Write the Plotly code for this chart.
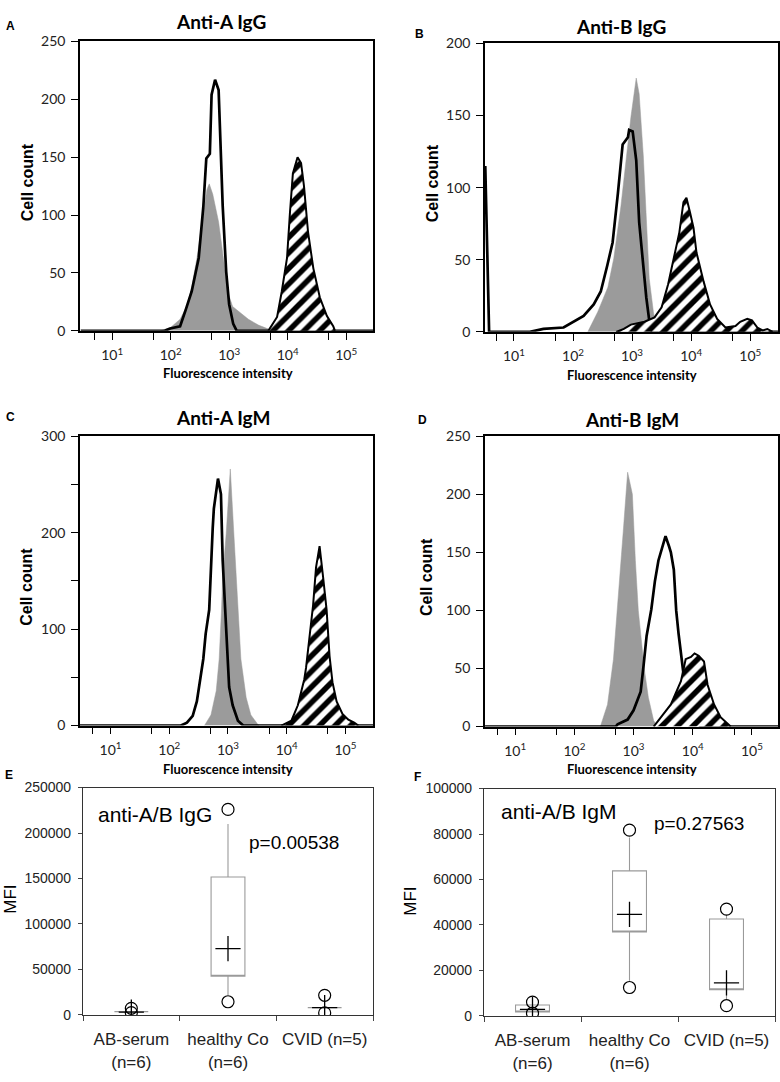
import plotly.graph_objects as go

W, H = 780, 1082

# ---------------- data ----------------
# Panel A: Anti-A IgG (fluorescence intensity, cell count)
A_gray_x = [66, 100, 145, 191, 229, 282, 363, 417, 457, 525, 661, 794, 955, 1148, 1514, 2138, 3162, 4467, 5623]
A_gray_y = [0, 3, 10, 22, 38, 63, 102, 122, 127, 118, 94, 63, 33, 21, 16, 10, 5, 2, 0]
A_black_x = [2.9, 79, 98, 145, 178, 229, 302, 363, 407, 468, 501, 575, 661, 708, 776, 891, 1000, 1175, 1349, 290000]
A_black_y = [0, 0, 2, 4, 17, 34, 63, 108, 149, 153, 204, 217, 208, 165, 108, 51, 23, 6, 0, 0]
A_hatch_x = [4677, 6607, 7943, 9772, 10965, 12303, 14791, 16982, 19055, 22387, 27542, 35481, 46774, 60256, 64565]
A_hatch_y = [0, 12, 34, 63, 102, 136, 150, 145, 125, 85, 54, 29, 13, 4, 0]

# Panel B: Anti-B IgG
B_gray_x = [178, 263, 389, 490, 646, 794, 955, 1175, 1318, 1549, 1738, 1950, 2291, 2570, 2754]
B_gray_y = [0, 14, 31, 51, 87, 122, 149, 176, 165, 122, 76, 37, 14, 2, 0]
B_black_x = [3.27, 3.5, 3.8, 18.6, 31.6, 69.2, 102, 151, 224, 295, 380, 468, 575, 692, 851, 891, 1023, 1175, 1318, 1549, 1738, 1950, 2188, 295000]
B_black_y = [115, 60, 0, 0, 2, 3, 7, 11, 19, 28, 46, 62, 96, 130, 135, 140, 139, 119, 76, 42, 24, 8, 0, 0]
B_hatch_x = [537, 724, 955, 1622, 2399, 3162, 4074, 5248, 6310, 7413, 8318, 9550, 10965, 12303, 16218,
             20893, 27542, 38019, 56234, 67608, 89125, 107152, 131826, 162181, 194984, 239883]
B_hatch_y = [0, 2, 5, 7, 10, 17, 33, 55, 69, 90, 93, 83, 72, 55, 35, 19, 9, 3, 4, 7, 9, 8, 3, 1, 2, 0]

# Panel C: Anti-A IgM
C_gray_x = [398, 513, 631, 708, 776, 813, 933, 1000, 1096, 1259, 1479, 1660, 2042, 2455, 3236, 3388]
C_gray_y = [0, 11, 36, 69, 120, 154, 199, 232, 266, 199, 120, 69, 29, 11, 1, 0]
C_black_x = [3.0, 158, 200, 251, 295, 331, 380, 417, 479, 550, 575, 676, 759, 813, 891, 977, 1047, 1202, 1479, 1820, 295000]
C_black_y = [0, 0, 3, 10, 25, 45, 69, 95, 120, 205, 225, 256, 240, 171, 120, 70, 40, 21, 5, 0, 0]
C_hatch_x = [8128, 12023, 15488, 19953, 21380, 23988, 28184, 31623, 36308, 41687, 47863, 53703, 60256,
             70795, 89125, 112202, 141254, 165959]
C_hatch_y = [0, 5, 21, 48, 60, 90, 125, 164, 186, 154, 120, 72, 45, 25, 12, 6, 3, 0]

# Panel D: Anti-B IgM
D_gray_x = [275, 363, 457, 562, 676, 794, 955, 1072, 1202, 1349, 1514, 1778, 2188, 2570]
D_gray_y = [0, 19, 58, 115, 171, 219, 200, 143, 100, 75, 50, 25, 5, 0]
D_black_x = [3.1, 501, 537, 794, 1000, 1318, 1479, 1660, 1995, 2291, 2630, 2884, 3467, 3981, 4266,
             4786, 5248, 5754, 6607, 7586, 8913, 11220, 14125, 280000]
D_black_y = [0, 0, 2, 6, 14, 30, 53, 78, 101, 125, 143, 150, 164, 155, 150, 135, 100, 80, 53, 30, 12, 3, 0, 0]
D_hatch_x = [2188, 2884, 4266, 6310, 7586, 9333, 10715, 12589, 15488, 17783, 22909, 29512, 43652]
D_hatch_y = [0, 8, 19, 39, 58, 60, 63, 61, 56, 36, 19, 8, 0]

# Panels E / F: MFI box plots
CATS = ["AB-serum<br>(n=6)", "healthy Co<br>(n=6)", "CVID (n=5)"]
E_q1 = [3600, 42600, 8000]
E_median = [3600, 42600, 8000]
E_q3 = [3600, 151700, 8000]
E_lowfence = [3600, 22000, 8000]
E_upfence = [3600, 210000, 8000]
E_min = [2600, 14500, 2300]
E_max = [7300, 226000, 21600]
E_mean = [3000, 73000, 8000]

F_q1 = [1700, 36900, 11500]
F_median = [1700, 36900, 11500]
F_q3 = [4800, 63800, 42600]
F_lowfence = [1700, 15500, 7000]
F_upfence = [4800, 78500, 44500]
F_min = [1200, 12500, 4500]
F_max = [6100, 81700, 47000]
F_mean = [2900, 44700, 14500]

DECADE_TICKS = [5, 10, 50, 100, 500, 1000, 5000, 10000, 50000, 100000]
DECADE_TEXT = ["", "10<sup>1</sup>", "", "10<sup>2</sup>", "", "10<sup>3</sup>", "", "10<sup>4</sup>", "", "10<sup>5</sup>"]

# ---------------- layout helpers ----------------
def fx(p):
    return p / W

def fy(p):
    return 1 - p / H

GRAY = "#9b9b9b"
CAL = "Lato, 'Open Sans', sans-serif"
ARIAL = "'Liberation Sans', Arial, sans-serif"

fig = go.Figure()

hist_panels = [
    ((A_gray_x, A_gray_y), (A_black_x, A_black_y), (A_hatch_x, A_hatch_y), (80, 373, 33, 327), [0.45, 5.46], 250,
     [0, 50, 100, 150, 200, 250], ["0", "50", "100", "150", "200", "250"]),
    ((B_gray_x, B_gray_y), (B_black_x, B_black_y), (B_hatch_x, B_hatch_y), (485, 778, 35, 328), [0.51, 5.47], 200,
     [0, 50, 100, 150, 200], ["0", "50", "100", "150", "200"]),
    ((C_gray_x, C_gray_y), (C_black_x, C_black_y), (C_hatch_x, C_hatch_y), (80, 373, 434, 728), [0.48, 5.47], 300,
     [0, 50, 100, 150, 200, 250, 300], ["0", "", "100", "", "200", "", "300"]),
    ((D_gray_x, D_gray_y), (D_black_x, D_black_y), (D_hatch_x, D_hatch_y), (485, 778, 434, 729), [0.49, 5.44], 250,
     [0, 50, 100, 150, 200, 250], ["0", "50", "100", "150", "200", "250"]),
]

layout_axes = {}
for i, (g, b, h, dom, xr, ymax, ytv, ytt) in enumerate(hist_panels, start=1):
    xa = "x" if i == 1 else f"x{i}"
    ya = "y" if i == 1 else f"y{i}"
    fig.add_trace(go.Scatter(x=g[0], y=g[1], xaxis=xa, yaxis=ya, mode="lines", fill="tozeroy",
                             fillcolor=GRAY, line=dict(color=GRAY, width=0.5), showlegend=False,
                             hoverinfo="skip"))
    fig.add_trace(go.Scatter(x=b[0], y=b[1], xaxis=xa, yaxis=ya, mode="lines",
                             line=dict(color="black", width=2.7), showlegend=False, hoverinfo="skip"))
    fig.add_trace(go.Scatter(x=h[0], y=h[1], xaxis=xa, yaxis=ya, mode="lines", fill="tozeroy",
                             fillcolor="white",
                             fillpattern=dict(shape="/", fgcolor="black", bgcolor="white", size=11,
                                              solidity=0.5, fillmode="replace"),
                             line=dict(color="black", width=2), showlegend=False, hoverinfo="skip"))
    x0, x1, y0, y1 = dom
    layout_axes["xaxis" if i == 1 else f"xaxis{i}"] = dict(
        domain=[fx(x0), fx(x1)], anchor=ya, type="log", range=xr,
        tickmode="array", tickvals=DECADE_TICKS, ticktext=DECADE_TEXT,
        ticks="outside", ticklen=7, tickwidth=1.3, tickcolor="black",
        showline=True, mirror=True, linecolor="black", linewidth=1.6,
        showgrid=False, zeroline=False,
        tickfont=dict(family=CAL, size=14, color="#222"), ticklabelstandoff=4)
    layout_axes["yaxis" if i == 1 else f"yaxis{i}"] = dict(
        domain=[fy(y1), fy(y0)], anchor=xa, range=[0, ymax],
        tickmode="array", tickvals=ytv, ticktext=ytt,
        ticks="outside", ticklen=7, tickwidth=1.3, tickcolor="black",
        showline=True, mirror=True, linecolor="black", linewidth=1.6,
        showgrid=False, zeroline=False,
        tickfont=dict(family=CAL, size=14, color="#222"), ticklabelstandoff=3)

box_panels = [
    (5, (83, 373, 791, 1022), [0, 250000], [0, 50000, 100000, 150000, 200000, 250000],
     E_q1, E_median, E_q3, E_lowfence, E_upfence, E_min, E_max, E_mean),
    (6, (484, 775, 792, 1023), [0, 100000], [0, 20000, 40000, 60000, 80000, 100000],
     F_q1, F_median, F_q3, F_lowfence, F_upfence, F_min, F_max, F_mean),
]

for (i, dom, yr, ytv, q1, med, q3, lo, hi, mn, mx, mean) in box_panels:
    xa, ya = f"x{i}", f"y{i}"
    fig.add_trace(go.Box(x=CATS, q1=q1, median=med, q3=q3, lowerfence=lo, upperfence=hi,
                         xaxis=xa, yaxis=ya, fillcolor="white",
                         line=dict(color="#9a9a9a", width=1.1), whiskerwidth=0,
                         boxpoints=False, showlegend=False, hoverinfo="skip"))
    fig.add_trace(go.Scatter(x=CATS + CATS, y=mn + mx, xaxis=xa, yaxis=ya, mode="markers",
                             marker=dict(symbol="circle-open", size=12, color="black",
                                         line=dict(color="black", width=1.2)),
                             showlegend=False, hoverinfo="skip"))
    fig.add_trace(go.Scatter(x=CATS, y=mean, xaxis=xa, yaxis=ya, mode="markers",
                             marker=dict(symbol="cross-thin-open", size=18, color="black",
                                         line=dict(color="black", width=1.3)),
                             showlegend=False, hoverinfo="skip"))
    x0, x1, y0, y1 = dom
    layout_axes[f"xaxis{i}"] = dict(
        domain=[fx(x0), fx(x1)], anchor=ya, type="category",
        categoryorder="array", categoryarray=CATS, range=[-0.5, 2.5],
        tickson="boundaries", ticks="outside", ticklen=5, tickcolor="#444",
        showline=True, mirror=True, linecolor="#333", linewidth=1.2,
        showgrid=False, zeroline=False,
        tickfont=dict(family=ARIAL, size=17, color="#222"), ticklabelstandoff=9)
    layout_axes[f"yaxis{i}"] = dict(
        domain=[fy(y1), fy(y0)], anchor=xa, range=yr,
        tickmode="array", tickvals=ytv, tickformat="d",
        ticks="outside", ticklen=4, tickcolor="#444",
        showline=True, mirror=True, linecolor="#333", linewidth=1.2,
        showgrid=False, zeroline=False,
        tickfont=dict(family=ARIAL, size=14, color="#222"), ticklabelstandoff=4)

ann = []

def add_text(text, x, y, size, family, bold=False, angle=0, xanchor="center", color="black"):
    ann.append(dict(text=(f"<b>{text}</b>" if bold else text), x=fx(x), y=fy(y), xref="paper", yref="paper",
                    showarrow=False, xanchor=xanchor, yanchor="middle", textangle=angle,
                    font=dict(family=family, size=size, color=color)))

# panel letters
add_text("A", 10, 17, 12, ARIAL, bold=True)
add_text("B", 419, 25, 12, ARIAL, bold=True)
add_text("C", 10, 415, 12, ARIAL, bold=True)
add_text("D", 423, 418, 12, ARIAL, bold=True)
add_text("E", 9, 778, 12, ARIAL, bold=True)
add_text("F", 417, 780, 12, ARIAL, bold=True)

# histogram titles
add_text("Anti-A IgG", 221, 13, 19, CAL, bold=True)
add_text("Anti-B IgG", 621, 18, 19, CAL, bold=True)
add_text("Anti-A IgM", 223, 415, 19, CAL, bold=True)
add_text("Anti-B IgM", 632, 417, 19, CAL, bold=True)

# x axis titles
add_text("Fluorescence intensity", 228, 370, 13, CAL, bold=True)
add_text("Fluorescence intensity", 632, 372, 13, CAL, bold=True)
add_text("Fluorescence intensity", 228, 772, 13, CAL, bold=True)
add_text("Fluorescence intensity", 632, 772, 13, CAL, bold=True)

# y axis titles
add_text("Cell count", 27, 176, 16, ARIAL, bold=True, angle=-90)
add_text("Cell count", 432, 177, 16, ARIAL, bold=True, angle=-90)
add_text("Cell count", 27, 587, 16, ARIAL, bold=True, angle=-90)
add_text("Cell count", 427, 577, 16, ARIAL, bold=True, angle=-90)
add_text("MFI", 11, 905, 17, ARIAL, angle=-90)
add_text("MFI", 411, 907, 17, ARIAL, angle=-90)

# in-panel texts
add_text("anti-A/B IgG", 96, 818, 21, ARIAL, xanchor="left")
add_text("p=0.00538", 247, 847, 19, ARIAL, xanchor="left")
add_text("anti-A/B IgM", 499, 815, 21, ARIAL, xanchor="left")
add_text("p=0.27563", 652, 828, 19, ARIAL, xanchor="left")

fig.update_layout(width=W, height=H, margin=dict(l=0, r=0, t=0, b=0),
                  paper_bgcolor="white", plot_bgcolor="white", showlegend=False,
                  boxgap=0.5, annotations=ann, **layout_axes)

# remove the browser's default page margin so the figure sits at the window origin
fig.write_html("out.html", config={"displayModeBar": False},
               post_script="document.body.style.margin='0';")
